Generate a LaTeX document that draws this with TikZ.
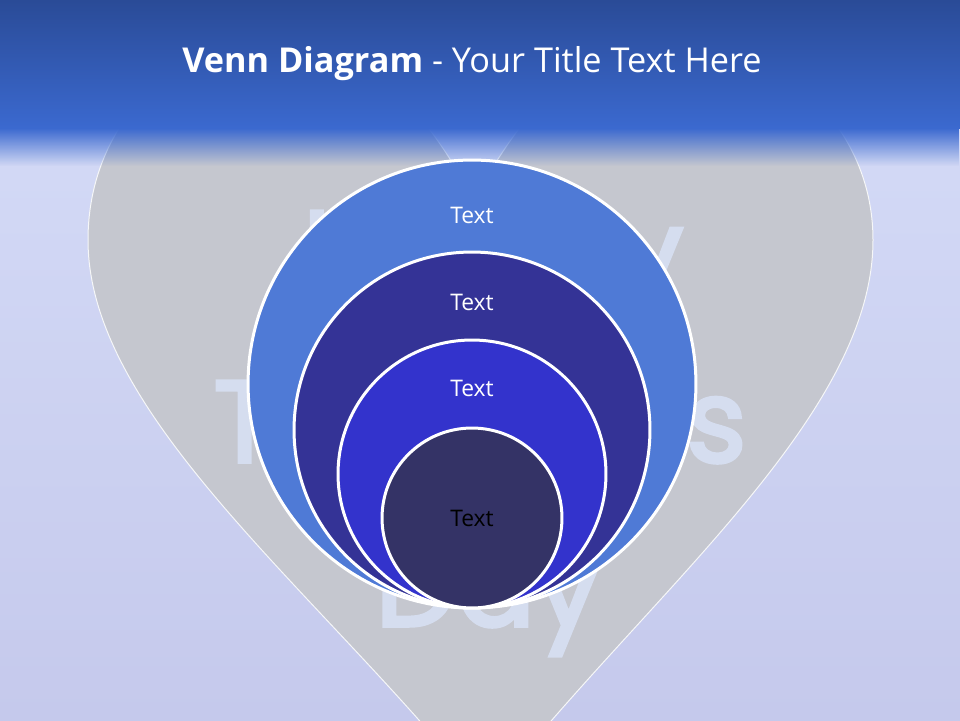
\documentclass[tikz,border=0pt]{standalone}
\usepackage{fontspec}
\setmainfont{Open Sans}
\newfontfamily\wmfont{Poppins}[FakeBold=3]
\usetikzlibrary{positioning,fadings}

\definecolor{bgtop}{HTML}{D6DDF8}
\definecolor{bgbot}{HTML}{C5C9EC}
\definecolor{hdrtop}{HTML}{2A4B97}
\definecolor{hdrbot}{HTML}{3B69CF}
\definecolor{heartgray}{HTML}{C5C7CF}
\definecolor{wmgray}{HTML}{D5DDEF}
\definecolor{ringA}{HTML}{4F7AD6}
\definecolor{ringB}{HTML}{343396}
\definecolor{ringC}{HTML}{3333CC}
\definecolor{ringD}{HTML}{343366}

\tikzfading[name=hdrfade, top color=transparent!0, bottom color=transparent!100]

\begin{document}
\begin{tikzpicture}[
    x=0.02cm, y=-0.02cm,
    ring/.style={circle, draw=white, line width=0.06cm, inner sep=0pt},
    lbl/.style={font=\fontsize{13}{15}\selectfont, text=white},
    wm/.style={font=\wmfont\fontsize{66}{66}\selectfont, text=wmgray, anchor=base},
    title/.style={font=\fontsize{19.5}{23}\selectfont, text=white}
]
\useasboundingbox (0,0) rectangle (960,720);

% background
\shade[top color=bgtop, bottom color=bgbot] (0,0) rectangle (960,720);

% heart
\fill[heartgray, draw=white!85!heartgray, line width=0.02cm]
    (486,800) .. controls (330,600) and (88,420) .. (88,240)
    .. controls (88,120) and (180,40) .. (270,40)
    .. controls (360,40) and (420,100) .. (474,200)
    .. controls (528,100) and (588,40) .. (678,40)
    .. controls (770,40) and (873,120) .. (873,240)
    .. controls (873,420) and (640,600) .. (486,800) -- cycle;

% watermark words
\node[wm] (wmA) at (493,292) {Happy};
\node[wm] (wmB) at (480,462) {Teachers};
\node[wm] (wmC) at (488,626) {Day};

% header band
\shade[top color=hdrtop, bottom color=hdrbot] (0,0) rectangle (960,128);
\fill[hdrbot, path fading=hdrfade] (0,128) rectangle (960,166);

\node[title] (ttl) at (472,64) {\textbf{Venn Diagram} - Your Title Text Here};

% rings, outer to inner
\node[ring, fill=ringA, minimum size=8.96cm] (c1) at (472,384) {};
\node[ring, fill=ringB, minimum size=7.12cm] (c2) at (472,430) {};
\node[ring, fill=ringC, minimum size=5.36cm] (c3) at (472,474) {};
\node[ring, fill=ringD, minimum size=3.60cm] (c4) at (472,518) {};

% labels
\node[lbl] (t1) at ([yshift=-1.14cm]c1.north) {Text};
\node[lbl] (t2) at ([yshift=-1.04cm]c2.north) {Text};
\node[lbl] (t3) at ([yshift=-1.00cm]c3.north) {Text};
\node[lbl, text=black] (t4) at (c4) {Text};

\end{tikzpicture}
\end{document}
